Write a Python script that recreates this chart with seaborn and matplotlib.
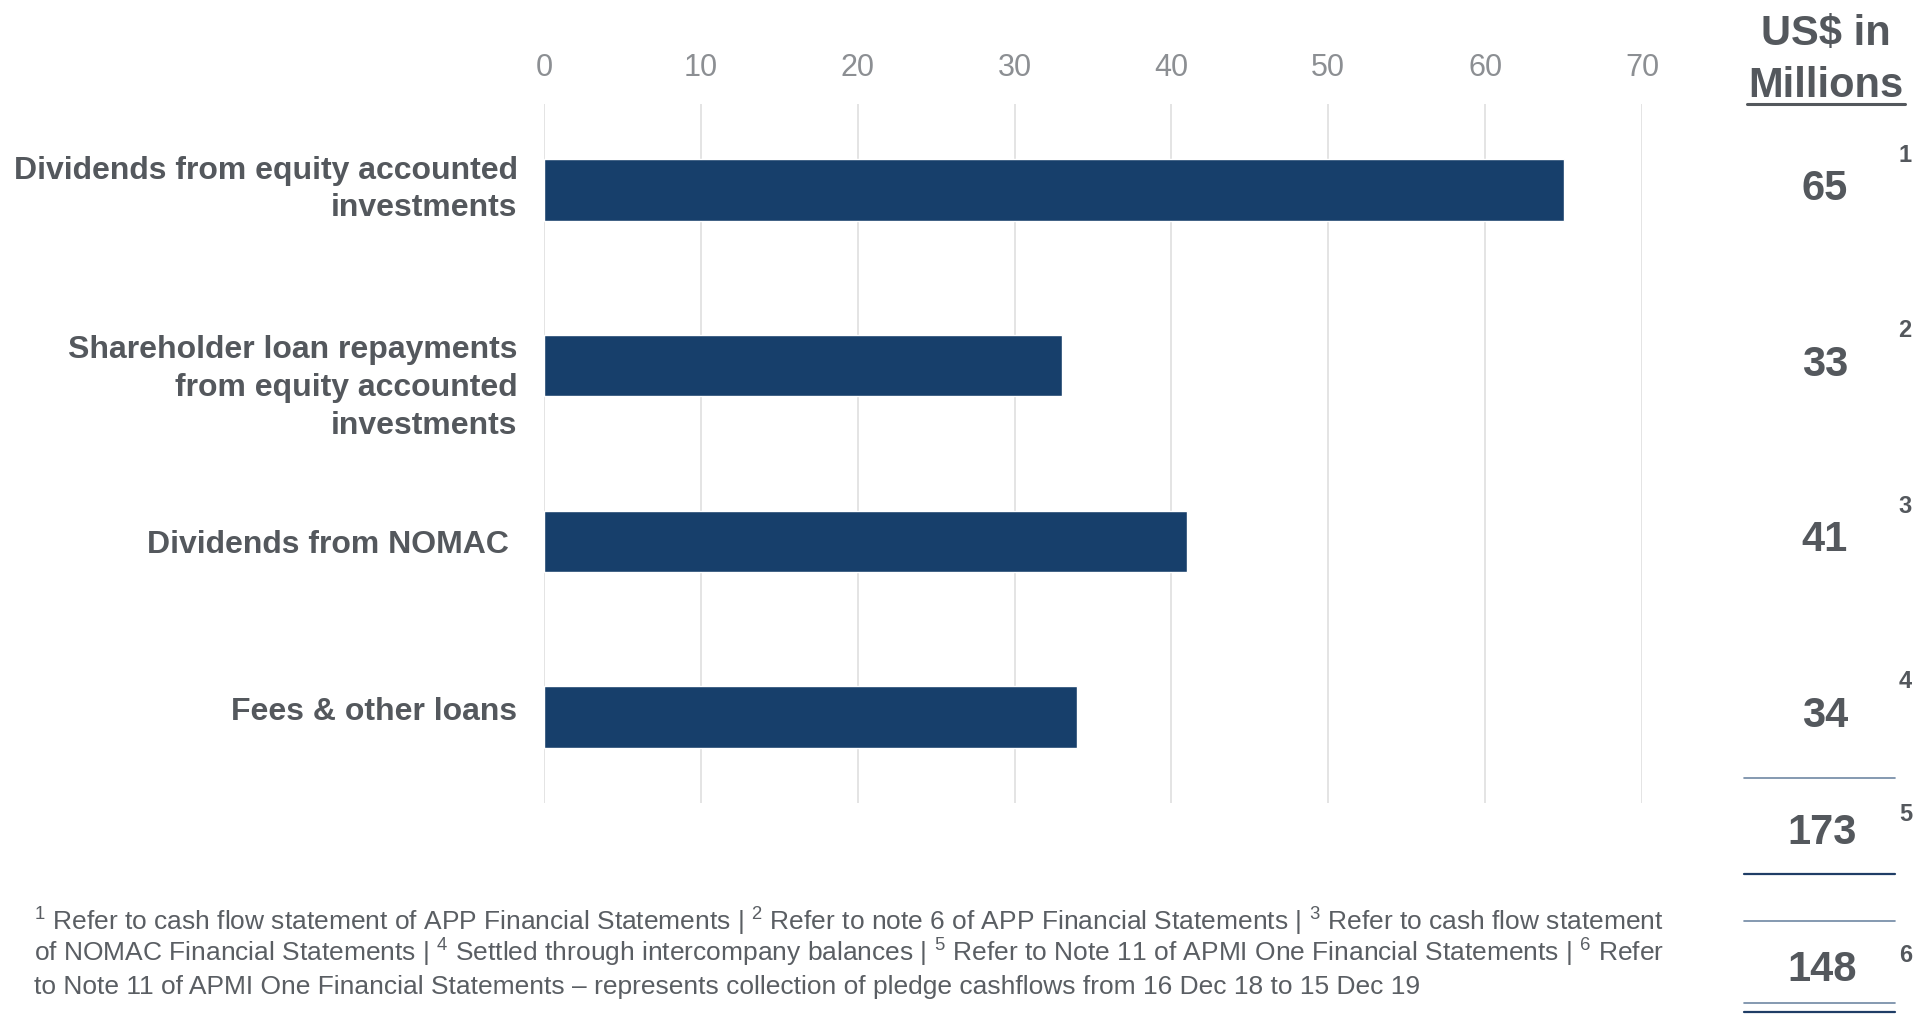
import matplotlib
matplotlib.use("Agg")
import matplotlib.pyplot as plt
import seaborn as sns
import pandas as pd
from matplotlib.lines import Line2D
from matplotlib import transforms

# ---------------- data ----------------
categories = [
    "Dividends from equity accounted\ninvestments",
    "Shareholder loan repayments\nfrom equity accounted\ninvestments",
    "Dividends from NOMAC ",
    "Fees & other loans",
]
values = [65, 33, 41, 34]
value_refs = ["1", "2", "3", "4"]
x_ticks = [0, 10, 20, 30, 40, 50, 60, 70]
total_value = 173
total_ref = "5"
pledge_value = 148
pledge_ref = "6"
header_lines = ["US$ in", "Millions"]


def sup(n):
    return r"$\mathregular{^{%s}}$" % n


footnote_lines = [
    sup(1) + " Refer to cash flow statement of APP Financial Statements | " + sup(2)
    + " Refer to note 6 of APP Financial Statements | " + sup(3) + " Refer to cash flow statement",
    "of NOMAC Financial Statements | " + sup(4) + " Settled through intercompany balances | "
    + sup(5) + " Refer to Note 11 of APMI One Financial Statements | " + sup(6) + " Refer",
    "to Note 11 of APMI One Financial Statements \u2013 represents collection of pledge cashflows from 16 Dec 18 to 15 Dec 19",
]

# ---------------- style ----------------
sns.set_theme(style="white")
plt.rcParams["font.family"] = ["Liberation Sans", "DejaVu Sans"]
plt.rcParams["mathtext.fontset"] = "custom"
plt.rcParams["mathtext.rm"] = "Liberation Sans"
plt.rcParams["mathtext.it"] = "Liberation Sans:italic"
plt.rcParams["mathtext.bf"] = "Liberation Sans:bold"

BAR = "#173f6b"
DARK_TXT = "#54585d"
TICK_TXT = "#8c8f93"
FOOT_TXT = "#5a5e63"
LIGHT_LINE = "#6f87a3"
DARK_LINE = "#1f3d66"

W, H = 1916, 1022
fig = plt.figure(figsize=(W / 100, H / 100), dpi=100)
fig.patch.set_facecolor("white")


def fx(px):
    return px / W


def fy(py):
    return 1 - py / H


ax = fig.add_axes([fx(544), fy(803), (1642 - 544) / W, (803 - 104) / H])
df = pd.DataFrame({"category": categories, "value": values})
sns.barplot(data=df, x="value", y="category", color=BAR, saturation=1,
            width=0.35, ax=ax)
ax.set_xlim(0, 70)
ax.set_ylim(3.49, -0.49)
ax.xaxis.tick_top()
ax.set_xticks(x_ticks)
ax.set_xticklabels([str(t) for t in x_ticks])
ax.grid(axis="x", color="#dcdcdc", lw=1.1)
ax.grid(axis="y", visible=False)
ax.set_axisbelow(True)
ax.tick_params(axis="x", length=0, pad=15, labelsize=22, labelcolor=TICK_TXT)
ax.tick_params(axis="y", length=0, pad=19, labelsize=23, labelcolor=DARK_TXT)
for s in ax.spines.values():
    s.set_visible(False)
ax.set_xlabel("")
ax.set_ylabel("")
label_shift_px = [8, -15, 0, 8]   # small vertical nudges (pixels, + = up)
for i, lbl in enumerate(ax.get_yticklabels()):
    lbl.set_fontweight("bold")
    lbl.set_multialignment("right")
    lbl.set_linespacing(1.33)
    if label_shift_px[i]:
        lbl.set_transform(lbl.get_transform() +
                          transforms.ScaledTranslation(0, label_shift_px[i] / 100,
                                                       fig.dpi_scale_trans))

# ---------------- right column ----------------
fig.text(fx(1826), fy(45), header_lines[0], ha="center", va="baseline",
         fontsize=30, fontweight="bold", color=DARK_TXT)
fig.text(fx(1826), fy(97), header_lines[1], ha="center", va="baseline",
         fontsize=30, fontweight="bold", color=DARK_TXT)
fig.add_artist(Line2D([fx(1747), fx(1905)], [fy(104), fy(104)],
                      color=DARK_TXT, lw=2.2, transform=fig.transFigure))

blend = transforms.blended_transform_factory(fig.transFigure, ax.transData)
val_tr = blend + transforms.ScaledTranslation(0, -0.10, fig.dpi_scale_trans)
ref_tr = blend + transforms.ScaledTranslation(0, 0.35, fig.dpi_scale_trans)
for i, (v, r) in enumerate(zip(values, value_refs)):
    ax.text(fx(1825), i, str(v), transform=val_tr, ha="center", va="baseline",
            fontsize=30, fontweight="bold", color=DARK_TXT, clip_on=False)
    ax.text(fx(1905), i, r, transform=ref_tr, ha="center", va="center",
            fontsize=17, fontweight="bold", color=DARK_TXT, clip_on=False)

fig.text(fx(1822), fy(844), str(total_value), ha="center", va="baseline",
         fontsize=30, fontweight="bold", color=DARK_TXT)
fig.text(fx(1906), fy(814), total_ref, ha="center", va="center",
         fontsize=17, fontweight="bold", color=DARK_TXT)
fig.text(fx(1822), fy(981), str(pledge_value), ha="center", va="baseline",
         fontsize=30, fontweight="bold", color=DARK_TXT)
fig.text(fx(1906), fy(956), pledge_ref, ha="center", va="center",
         fontsize=17, fontweight="bold", color=DARK_TXT)

for ypx, col, lw in [(778, LIGHT_LINE, 1.2), (874, DARK_LINE, 1.6),
                     (921, LIGHT_LINE, 1.2), (1003, LIGHT_LINE, 1.2),
                     (1012, DARK_LINE, 1.6)]:
    fig.add_artist(Line2D([fx(1744), fx(1895)], [fy(ypx), fy(ypx)],
                          color=col, lw=lw, transform=fig.transFigure))

# ---------------- footnotes ----------------
for line, ypx in zip(footnote_lines, [931, 962, 994]):
    fig.text(fx(34), fy(ypx), line, ha="left", va="baseline",
             fontsize=19, color=FOOT_TXT)

fig.savefig("out.png", dpi=100, facecolor="white")
